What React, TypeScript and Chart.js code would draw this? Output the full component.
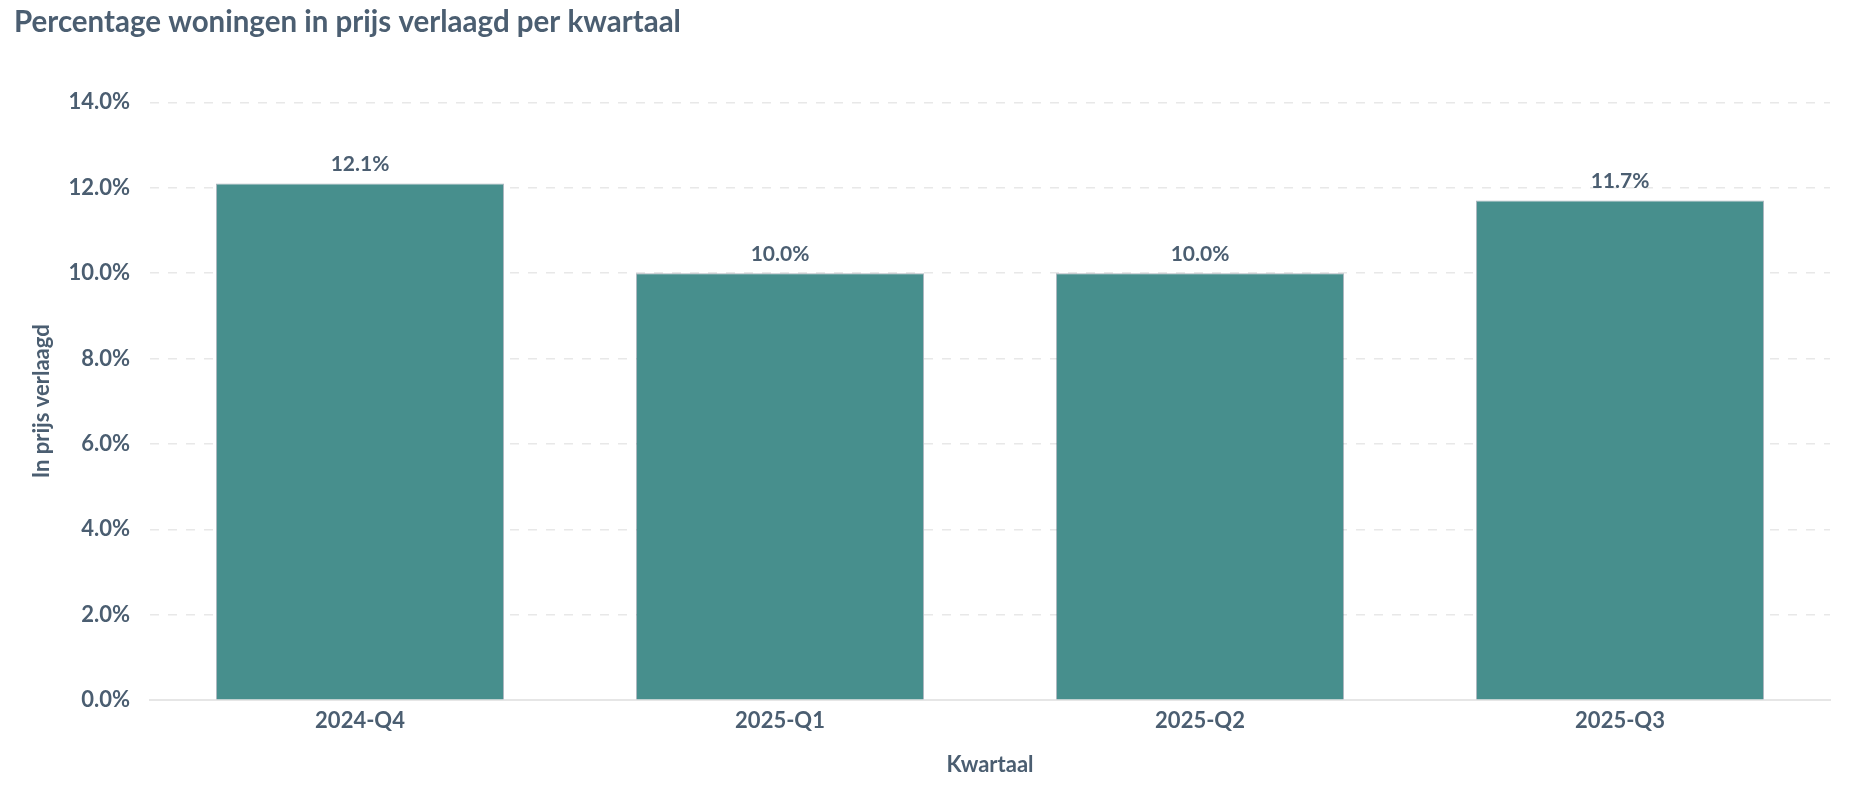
import React, { useEffect, useRef } from 'react';
import { Chart, registerables } from 'chart.js';

Chart.register(...registerables);

// Data
const quarters = ['2024-Q4', '2025-Q1', '2025-Q2', '2025-Q3'];
const pctReduced = [12.1, 10.0, 10.0, 11.7];
const yTicks = [0, 2, 4, 6, 8, 10, 12, 14];

const TEXT = '#4b5e71';
const BAR = '#478f8d';
const FONT = 'Lato, "Noto Sans", sans-serif';

// draws the value above each bar
const valueLabels = {
  id: 'valueLabels',
  afterDatasetsDraw(chart: Chart) {
    const ctx = chart.ctx;
    const meta = chart.getDatasetMeta(0);
    ctx.save();
    ctx.font = `bold 21px ${FONT}`;
    ctx.fillStyle = TEXT;
    ctx.textAlign = 'center';
    ctx.textBaseline = 'middle';
    meta.data.forEach((bar: any, i: number) => {
      ctx.fillText(pctReduced[i].toFixed(1) + '%', bar.x, bar.y - 19);
    });
    ctx.restore();
  },
};

const App: React.FC = () => {
  const canvasRef = useRef<HTMLCanvasElement>(null);
  const chartRef = useRef<Chart | null>(null);

  useEffect(() => {
    document.body.style.margin = '0';
    const ctx = canvasRef.current?.getContext('2d');
    if (!ctx) return;
    if (chartRef.current) chartRef.current.destroy();

    chartRef.current = new Chart(ctx, {
      type: 'bar',
      data: {
        labels: quarters,
        datasets: [
          {
            label: 'In prijs verlaagd',
            data: pctReduced,
            backgroundColor: BAR,
            borderColor: 'rgba(75, 94, 113, 0.45)',
            borderWidth: 1,
            categoryPercentage: 1,
            barPercentage: 0.686,
          },
        ],
      },
      options: {
        animation: false,
        responsive: true,
        maintainAspectRatio: false,
        layout: { padding: { left: 14, right: 26, top: 0, bottom: 13.5 } },
        plugins: {
          legend: { display: false },
          tooltip: { enabled: false },
          title: {
            display: true,
            text: 'Percentage woningen in prijs verlaagd per kwartaal',
            align: 'start',
            color: TEXT,
            font: { family: FONT, size: 29.5, weight: 'bold' },
            padding: { top: 5, bottom: 62 },
          },
        },
        scales: {
          x: {
            grid: { display: false, drawTicks: false },
            border: { display: true, color: '#e6e6e6', width: 2 },
            ticks: {
              color: TEXT,
              padding: 8,
              font: { family: FONT, size: 22, weight: 'bold' },
            },
            title: {
              display: true,
              text: 'Kwartaal',
              color: TEXT,
              font: { family: FONT, size: 22, weight: 'bold' },
              padding: { top: 9.5, bottom: 0 },
            },
          },
          y: {
            min: 0,
            max: 14,
            afterBuildTicks: (scale: any) => {
              scale.ticks = yTicks.map((v) => ({ value: v }));
            },
            // pin the axis width so the plot starts where the reference does
            afterFit: (scale: any) => {
              scale.width = 136;
            },
            grid: { color: '#e8e8e8', lineWidth: 1.5, drawTicks: false },
            border: { display: false, dash: [9, 9] },
            ticks: {
              color: TEXT,
              padding: 20,
              font: { family: FONT, size: 22, weight: 'bold' },
              callback: (v: string | number) => Number(v).toFixed(1) + '%',
            },
            title: {
              display: true,
              text: 'In prijs verlaagd',
              color: TEXT,
              font: { family: FONT, size: 22, weight: 'bold' },
              padding: { top: 15, bottom: 0 },
            },
          },
        },
      },
      plugins: [valueLabels],
    });

    return () => {
      if (chartRef.current) {
        chartRef.current.destroy();
        chartRef.current = null;
      }
    };
  }, []);

  return (
    <div style={{ position: 'relative', width: '1856px', height: '792px', background: '#fff' }}>
      <canvas ref={canvasRef} />
    </div>
  );
};

export default App;
